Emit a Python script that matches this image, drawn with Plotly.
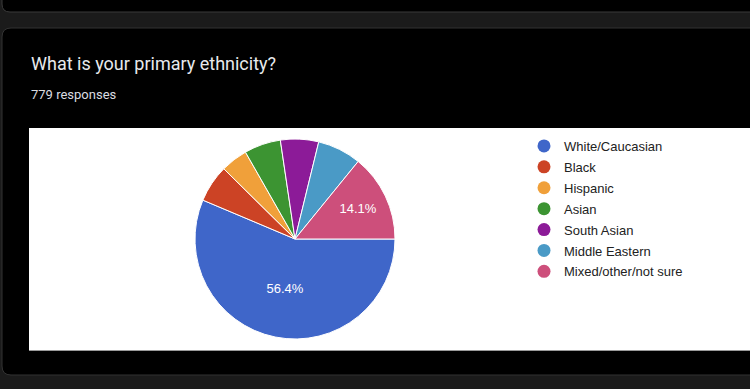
import plotly.graph_objects as go

# ---- data ----
categories = ["White/Caucasian", "Black", "Hispanic", "Asian", "South Asian",
              "Middle Eastern", "Mixed/other/not sure"]
counts = [439, 47, 34, 46, 48, 55, 110]
colors = ["#3f66c9", "#cc4325", "#f0a03a", "#3c9432", "#8c1b98", "#4a9ac6", "#cd4f7b"]
title_text = "What is your primary ethnicity?"
subtitle_text = "779 responses"
label_min_share = 0.10

W, H = 750, 389
total = sum(counts)
templates = ["%{percent:.1%}" if c / total >= label_min_share else "" for c in counts]


def rrect(x0, y0, x1, y1, r):
    return (f"M {x0+r},{y0} L {x1-r},{y0} Q {x1},{y0} {x1},{y0+r} "
            f"L {x1},{y1-r} Q {x1},{y1} {x1-r},{y1} L {x0+r},{y1} "
            f"Q {x0},{y1} {x0},{y1-r} L {x0},{y0+r} Q {x0},{y0} {x0+r},{y0} Z")


fig = go.Figure()

fig.add_trace(go.Pie(
    labels=categories, values=counts, sort=False,
    direction="clockwise", rotation=90,
    marker=dict(colors=colors, line=dict(color="white", width=1)),
    texttemplate=templates, textposition="inside",
    insidetextorientation="horizontal",
    textfont=dict(color="white", size=13, family="Arial"),
    showlegend=False,
    domain=dict(x=[195 / W, 395 / W], y=[50 / H, 250 / H]),
))

for cat, col in zip(categories, colors):
    fig.add_trace(go.Scatter(
        x=[None], y=[None], mode="markers", name=cat, legendgroup=cat,
        marker=dict(size=13, color=col, symbol="circle"),
        showlegend=True, hoverinfo="skip",
    ))

shapes = [
    dict(type="path", path=rrect(2, -30, 790, 12, 8), fillcolor="#000000",
         line=dict(color="#3a3a3a", width=1), layer="below"),
    dict(type="path", path=rrect(2, 28, 790, 375, 9), fillcolor="#000000",
         line=dict(color="#333333", width=1), layer="below"),
    dict(type="rect", x0=29, x1=760, y0=128, y1=350, fillcolor="#ffffff",
         line=dict(width=0), layer="below"),
    dict(type="line", x0=29, x1=760, y0=350.5, y1=350.5,
         line=dict(color="#9a9a9a", width=1), layer="below"),
]

fig.update_layout(
    width=W, height=H,
    margin=dict(l=0, r=0, t=0, b=0),
    paper_bgcolor="#1b1b1b", plot_bgcolor="#1b1b1b",
    xaxis=dict(range=[0, W], visible=False, fixedrange=True),
    yaxis=dict(range=[H, 0], visible=False, fixedrange=True),
    shapes=shapes,
    showlegend=True,
    legend=dict(
        x=524 / W, xanchor="left", y=1 - 131 / H, yanchor="top",
        bgcolor="rgba(0,0,0,0)", font=dict(family="Arial", size=13, color="#222222"),
        traceorder="grouped", tracegroupgap=1, itemclick=False, itemdoubleclick=False,
    ),
    annotations=[
        dict(text=title_text, x=29, y=63, xref="x", yref="y", xanchor="left",
             yanchor="middle", showarrow=False,
             font=dict(family="Roboto", size=18, color="#e8eaed")),
        dict(text=subtitle_text, x=29, y=94, xref="x", yref="y", xanchor="left",
             yanchor="middle", showarrow=False,
             font=dict(family="Roboto", size=13, color="#dadce0")),
    ],
)

fig.write_html("out.html", config={"displayModeBar": False},
               post_script="document.body.style.margin='0';document.body.style.overflow='hidden';")
